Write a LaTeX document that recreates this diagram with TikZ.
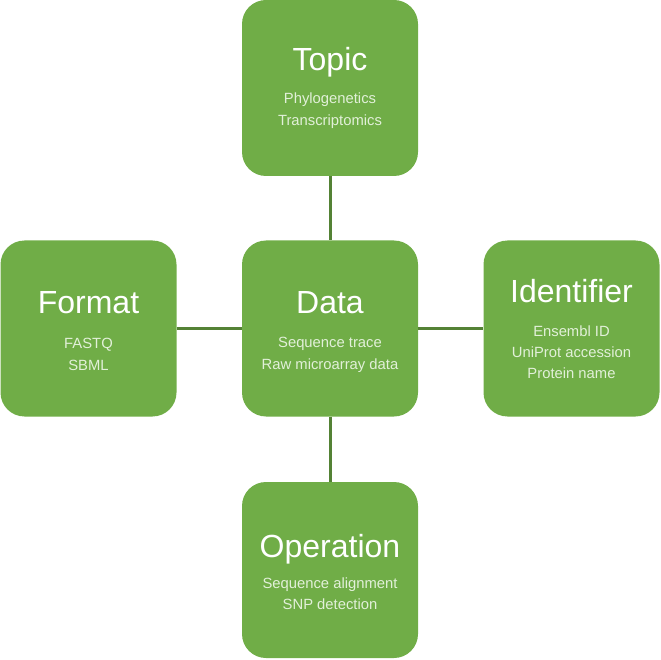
\documentclass[tikz,border=0pt]{standalone}
\usepackage{fontspec}
\setmainfont{Liberation Sans}
\definecolor{boxgreen}{HTML}{70AD47}
\definecolor{linegreen}{HTML}{548235}
\definecolor{subtext}{HTML}{E2F0D9}
\begin{document}
\begin{tikzpicture}[x=1pt,y=-1pt,
  box/.style={fill=boxgreen,rounded corners=24pt,minimum width=176pt,minimum height=176pt,inner sep=0pt,draw=none},
  ttl/.style={anchor=base,text=white,font=\fontsize{32}{38}\selectfont,inner sep=0pt},
  sub/.style={anchor=base,text=subtext,font=\fontsize{14.8}{18}\selectfont,inner sep=0pt},
  conn/.style={draw=linegreen,line width=3pt}]
\useasboundingbox (0,0) rectangle (661,660);
% boxes
\node[box] (topic) at (330,88) {};
\node[box] (format) at (88.5,328.5) {};
\node[box] (data) at (330,328.5) {};
\node[box] (ident) at (571.5,328.5) {};
\node[box] (oper) at (330,570) {};
% connectors
\draw[conn] (topic.south) -- (data.north);
\draw[conn] (format.east) -- (data.west);
\draw[conn] (data.east) -- (ident.west);
\draw[conn] (data.south) -- (oper.north);
% texts
\node[ttl] (topicT) at (330,71) {Topic};
\node[sub] (topicA) at (330,104) {Phylogenetics};
\node[sub] (topicB) at (330,126) {Transcriptomics};
\node[ttl] (formatT) at (88.5,313) {Format};
\node[sub] (formatA) at (88.5,348) {FASTQ};
\node[sub] (formatB) at (88.5,370) {SBML};
\node[ttl] (dataT) at (330,313) {Data};
\node[sub] (dataA) at (330,347) {Sequence trace};
\node[sub] (dataB) at (330,369) {Raw microarray data};
\node[ttl] (identT) at (571.5,302) {Identifier};
\node[sub] (identA) at (571.5,336) {Ensembl ID};
\node[sub] (identB) at (571.5,357) {UniProt accession};
\node[sub] (identC) at (571.5,378) {Protein name};
\node[ttl] (operT) at (330,557) {Operation};
\node[sub] (operA) at (330,588) {Sequence alignment};
\node[sub] (operB) at (330,609) {SNP detection};
\end{tikzpicture}
\end{document}
